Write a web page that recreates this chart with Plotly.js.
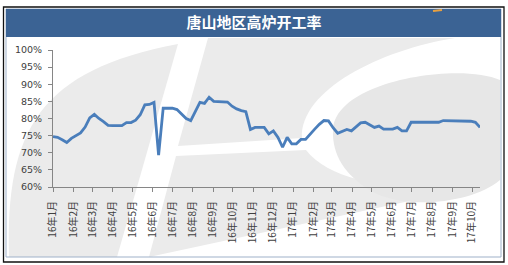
<!DOCTYPE html>
<html>
<head>
<meta charset="utf-8">
<script src="https://cdn.plot.ly/plotly-3.0.1.min.js"></script>
<style>
html,body{margin:0;padding:0;background:#fff;}
#chart{width:508px;height:265px;}
</style>
</head>
<body>
<div id="chart"></div>
<script>
// ---- data ----
const chartTitle = '唐山地区高炉开工率';
const startDate = '2016-01-01';   // first weekly observation (Friday)
const endDate = '2017-10-13';     // last weekly observation
const rateValues = [
  74.7,74.5,73.8,73.0,74.2,75.0,75.8,77.5,80.2,81.2,
  80.0,79.1,78.0,77.9,77.9,77.9,78.8,78.8,79.5,81.1,
  84.0,84.1,84.7,69.3,83.0,83.0,83.0,82.6,81.2,80.0,
  79.4,82.2,84.7,84.4,86.2,85.0,84.9,84.9,84.8,83.6,
  82.8,82.3,82.0,76.8,77.4,77.4,77.4,75.5,76.4,74.5,
  71.6,74.5,72.6,72.6,73.9,73.9,75.5,76.9,78.3,79.4,
  79.3,77.3,75.7,76.3,76.8,76.4,77.6,78.7,78.9,78.1,
  77.4,77.8,76.9,76.9,76.9,77.4,76.4,76.4,78.9,78.9,
  78.9,78.9,78.9,78.9,78.9,79.4,79.4,79.4,79.4,79.4,
  79.4,79.2,78.9,77.4
];
const tickDates = [
  '2016-01-01','2016-02-01','2016-03-01','2016-04-01','2016-05-01','2016-06-01',
  '2016-07-01','2016-08-01','2016-09-01','2016-10-01','2016-11-01','2016-12-01',
  '2017-01-01','2017-02-01','2017-03-01','2017-04-01','2017-05-01','2017-06-01',
  '2017-07-01','2017-08-01','2017-09-01','2017-10-01'
];
const tickLabels = [
  '16年1月','16年2月','16年3月','16年4月','16年5月','16年6月',
  '16年7月','16年8月','16年9月','16年10月','16年11月','16年12月',
  '17年1月','17年2月','17年3月','17年4月','17年5月','17年6月',
  '17年7月','17年8月','17年9月','17年10月'
];

// weekly dates for the series
const weekDates = [];
{
  const d0 = new Date(startDate + 'T00:00:00Z');
  for (let i = 0; i < rateValues.length; i++) {
    const d = new Date(d0.getTime() + i * 7 * 86400000);
    weekDates.push(d.toISOString().slice(0, 10));
  }
}

// ---- layout geometry (pixels) ----
const W = 508, H = 265;
const M = {l: 53, r: 28, t: 50, b: 78};
const PW = W - M.l - M.r, PH = H - M.t - M.b;
const px = x => ((x - M.l) / PW);
const py = y => ((H - M.b - y) / PH);
function pathFrom(cmds) {
  return cmds.map(c => {
    const L = c[0];
    if (L === 'Z') return 'Z';
    const pts = [];
    for (let i = 1; i < c.length; i += 2) pts.push(px(c[i]).toFixed(4) + ',' + py(c[i + 1]).toFixed(4));
    return L + pts.join(' ');
  }).join(' ');
}
const wm = '#ebebeb';
const shapes = [
  // watermark: left leaf
  {type:'path', xref:'paper', yref:'paper', layer:'below', line:{width:0}, fillcolor:wm,
   path: pathFrom([['M',9,257],['C',5,130,40,70,178,44],['L',117,257],['Z']])},
  // watermark: upper big region
  {type:'path', xref:'paper', yref:'paper', layer:'below', line:{width:0}, fillcolor:wm,
   path: pathFrom([['M',208,38],['L',455,38],['C',380,50,300,90,302,138],['L',178,146],['Z']])},
  // watermark: lower wedge
  {type:'path', xref:'paper', yref:'paper', layer:'below', line:{width:0}, fillcolor:wm,
   path: pathFrom([['M',176,156],['L',306,150],['C',330,182,400,192,470,188],['L',149,257],['Z']])},
  // watermark: right ellipse
  {type:'path', xref:'paper', yref:'paper', layer:'below', line:{width:0}, fillcolor:'#e7e7e7',
   path: pathFrom([['M',333,130],['C',335,80,460,62,500,80],['L',500,180],['C',470,205,400,210,370,190],['C',345,175,332,155,333,130],['Z']])},
  // inner frame
  {type:'rect', xref:'paper', yref:'paper', layer:'below', line:{color:'#9fb1c9', width:1}, fillcolor:'rgba(0,0,0,0)',
   x0:px(6), x1:px(501), y0:py(257), y1:py(9)},
  // outer frame
  {type:'rect', xref:'paper', yref:'paper', layer:'below', line:{color:'#111111', width:1.3}, fillcolor:'rgba(0,0,0,0)',
   x0:px(3.5), x1:px(504), y0:py(262), y1:py(7)},
  // title bar
  {type:'rect', xref:'paper', yref:'paper', layer:'below', line:{width:0}, fillcolor:'#3b6394',
   x0:px(6), x1:px(501), y0:py(37), y1:py(9)},
  // small orange mark
  {type:'line', xref:'paper', yref:'paper', layer:'below', line:{color:'#e8a040', width:2},
   x0:px(433), x1:px(442), y0:py(11), y1:py(10)}
];

const trace = {
  type: 'scatter', mode: 'lines',
  x: weekDates, y: rateValues,
  line: {color: '#4a7ebb', width: 2.8},
  hoverinfo: 'skip'
};

const layout = {
  width: W, height: H,
  margin: M,
  paper_bgcolor: '#ffffff',
  plot_bgcolor: 'rgba(0,0,0,0)',
  showlegend: false,
  title: {
    text: chartTitle,
    font: {family: '"Noto Sans CJK SC", sans-serif', size: 15, color: '#ffffff', weight: 'bold'},
    x: 0.5, xref: 'container', xanchor: 'center',
    y: 1 - 23 / H, yref: 'container', yanchor: 'middle'
  },
  xaxis: {
    type: 'date',
    range: [startDate, endDate],
    tickmode: 'array', tickvals: tickDates, ticktext: tickLabels,
    tickangle: -90,
    ticks: 'outside', ticklen: 4, tickcolor: '#868686',
    ticklabelstandoff: 5,
    showline: true, linecolor: '#868686', linewidth: 1,
    showgrid: false, zeroline: false,
    tickfont: {family: '"Noto Sans CJK SC", sans-serif', size: 10, color: '#404040'}
  },
  yaxis: {
    range: [60, 100],
    tickmode: 'linear', tick0: 60, dtick: 5,
    ticksuffix: '%',
    ticks: 'outside', ticklen: 4, tickcolor: '#868686',
    ticklabelstandoff: 4,
    showline: true, linecolor: '#868686', linewidth: 1,
    showgrid: false, zeroline: false,
    tickfont: {family: '"DejaVu Sans", sans-serif', size: 9.5, color: '#404040'}
  },
  shapes: shapes
};

Plotly.newPlot('chart', [trace], layout, {staticPlot: true, displayModeBar: false});
</script>
</body>
</html>
